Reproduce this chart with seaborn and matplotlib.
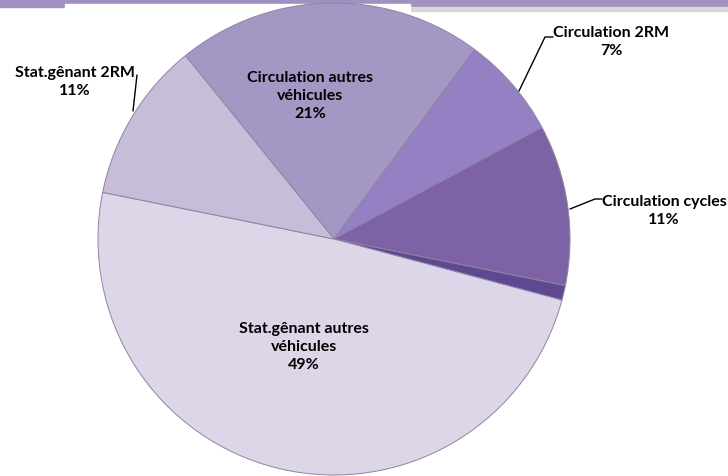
import numpy as np
import matplotlib.pyplot as plt
import matplotlib.patches as mpatches
import seaborn as sns

# data (clockwise from the upper-left slice)
categories = ["Circulation autres\nvéhicules", "Circulation 2RM", "Circulation cycles",
              "Autres", "Stat.gênant autres\nvéhicules", "Stat.gênant 2RM"]
values = [21, 7, 11, 1, 49, 11]
colors = ["#A597C3", "#9480C2", "#7D63A6", "#5E4890", "#DCD6E8", "#C7BDD9"]

sns.set_theme(style="white")
plt.rcParams["font.family"] = ["Lato", "DejaVu Sans"]

W, H = 728, 477
fig = plt.figure(figsize=(W / 100, H / 100), dpi=100)
ax = fig.add_axes([0, 0, 1, 1])

# bandeau du haut
ax.add_patch(mpatches.Rectangle((0, H - 8), W, 8, color="#A091C2", zorder=0))
ax.add_patch(mpatches.Rectangle((410, H - 12), W - 410, 4, color="#D8D8D8", zorder=0))
ax.add_patch(mpatches.Rectangle((65, H - 12), 345, 7, color="white", zorder=0.5))

cx, cy, r = 334, H - 240, 236
wedges, _ = ax.pie(values, colors=colors, startangle=129, counterclock=False,
                   center=(cx, cy), radius=r, frame=True,
                   wedgeprops=dict(edgecolor="#8E84A3", linewidth=0.7))
ax.set_xlim(0, W)
ax.set_ylim(0, H)
ax.set_aspect("equal")
ax.axis("off")

tk = dict(ha="center", va="center", fontsize=11.5, fontweight="bold",
          color="black", linespacing=1.35)

def pct(v):
    return f"{v}%"

# étiquettes internes
ax.text(310, H - 96, categories[0] + "\n" + pct(values[0]), **tk)
ax.text(304, H - 347, categories[4] + "\n" + pct(values[4]), **tk)

# étiquettes externes avec traits de rappel
ax.text(611, H - 42, categories[1] + "\n" + pct(values[1]), **tk)
ax.plot([519, 545, 553], [H - 92, H - 38, H - 38], color="black", lw=1)

ax.text(664, H - 211, categories[2] + "\n" + pct(values[2]), **tk)
ax.plot([570, 595, 602], [H - 210, H - 200, H - 200], color="black", lw=1)

ax.text(75, H - 82, categories[5] + "\n" + pct(values[5]), **tk)
ax.plot([137, 133], [H - 76, H - 112], color="black", lw=1)

plt.savefig("out.png", dpi=100)
